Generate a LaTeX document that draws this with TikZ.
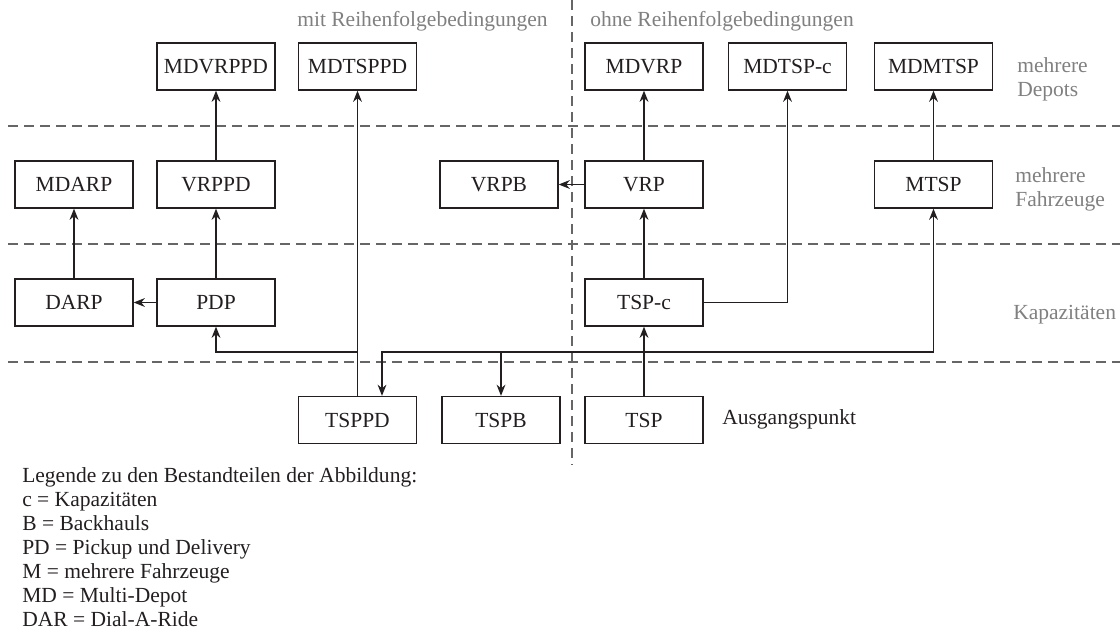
\documentclass[tikz,border=0pt]{standalone}
\usepackage{fontspec}
\setmainfont{Liberation Serif}
\usetikzlibrary{arrows.meta}

\definecolor{ink}{HTML}{231F20}
\definecolor{labelgray}{gray}{0.5}
\definecolor{dashgray}{gray}{0.4}

\begin{document}
\begin{tikzpicture}[x=0.025cm,y=-0.025cm,font=\fontsize{15.3}{17.07}\selectfont]

		\tikzstyle{problem}=[rectangle,
			draw=ink,line width=0.9pt,text=ink,
			minimum height=1.175cm,minimum width=2.95cm,inner sep=1mm]
		\tikzstyle{rowlabel}=[text=labelgray,align=left,anchor=west,inner sep=0pt]
		\tikzstyle{divider}=[dashgray,line width=0.8pt,dash pattern=on 2.5mm off 1.5mm]
		\tikzstyle{link}=[->,>={Stealth[length=2.8mm,width=2.2mm]},ink,line width=0.9pt]

		\useasboundingbox (0,0) rectangle (1120,631);

		% Ebenen und Spalten
		\draw[divider] (8,126) -- (1120,126);
		\draw[divider] (8,244) -- (1120,244);
		\draw[divider] (8,362) -- (1120,362);
		\draw[divider] (572,0) -- (572,465);

		\node[anchor=base west,inner sep=0pt,text=labelgray]	(mit)	at (297,27)	{mit Reihenfolgebedingungen};
		\node[anchor=base west,inner sep=0pt,text=labelgray]	(ohne)	at (590,27)	{ohne Reihenfolgebedingungen};

		\node[rowlabel]	(depots)	at (1017,79)	{mehrere\\Depots};
		\node[rowlabel]	(fahrzeuge)	at (1015,189)	{mehrere\\Fahrzeuge};
		\node[rowlabel]	(kapazitaeten)	at (1013,315)	{Kapazitäten};

		% Probleme
		\node[problem]	(mdvrppd)	at (216,66.5)	{MDVRPPD};
		\node[problem]	(mdtsppd)	at (357.5,66.5)	{MDTSPPD};
		\node[problem]	(mdvrp)	at (644,66.5)	{MDVRP};
		\node[problem]	(mdtspc)	at (787.5,66.5)	{MDTSP-c};
		\node[problem]	(mdmtsp)	at (933.5,66.5)	{MDMTSP};

		\node[problem]	(mdarp)	at (74,184.5)	{MDARP};
		\node[problem]	(vrppd)	at (216,184.5)	{VRPPD};
		\node[problem]	(vrpb)	at (499,184.5)	{VRPB};
		\node[problem]	(vrp)	at (644,184.5)	{VRP};
		\node[problem]	(mtsp)	at (933.5,184.5)	{MTSP};

		\node[problem]	(darp)	at (74,302.5)	{DARP};
		\node[problem]	(pdp)	at (216,302.5)	{PDP};
		\node[problem]	(tspc)	at (644,302.5)	{TSP-c};

		\node[problem]	(tsppd)	at (357.5,420)	{TSPPD};
		\node[problem]	(tspb)	at (501,420)	{TSPB};
		\node[problem]	(tsp)	at (644,420)	{TSP};
		\node[anchor=west,inner sep=0pt,text=ink]	(start)	at (722,419)	{Ausgangspunkt};

		\coordinate (split) at (644,352);

		% Verbindungen
		\draw[link] (darp) -- (mdarp);
		\draw[link] (pdp) -- (darp);
		\draw[link] (pdp) -- (vrppd);
		\draw[link] (vrppd) -- (mdvrppd);
		\draw[link] (tsppd) -- (mdtsppd);
		\draw[link] (tsppd.north) -- (tsppd.north |- split) -| (pdp.south);

		\draw[link] (tsp) -- (tspc);
		\draw[link] (split) -| ([xshift=0.6125cm]tsppd.north);
		\draw[link] (split) -| (tspb.north);
		\draw[link] (split) -| (mtsp.south);
		\draw[link] (tspc) -- (vrp);
		\draw[link] (tspc.east) -| (mdtspc.south);
		\draw[link] (vrp) -- (vrpb);
		\draw[link] (vrp) -- (mdvrp);
		\draw[link] (mtsp) -- (mdmtsp);

		% Legende
		\node[anchor=north west,align=left,inner sep=0pt,text=ink]	(legende)	at (22,467)
			{Legende zu den Bestandteilen der Abbildung:\\
			c = Kapazitäten\\
			B = Backhauls\\
			PD = Pickup und Delivery\\
			M = mehrere Fahrzeuge\\
			MD = Multi-Depot\\
			DAR = Dial-A-Ride};

	\end{tikzpicture}
\end{document}
